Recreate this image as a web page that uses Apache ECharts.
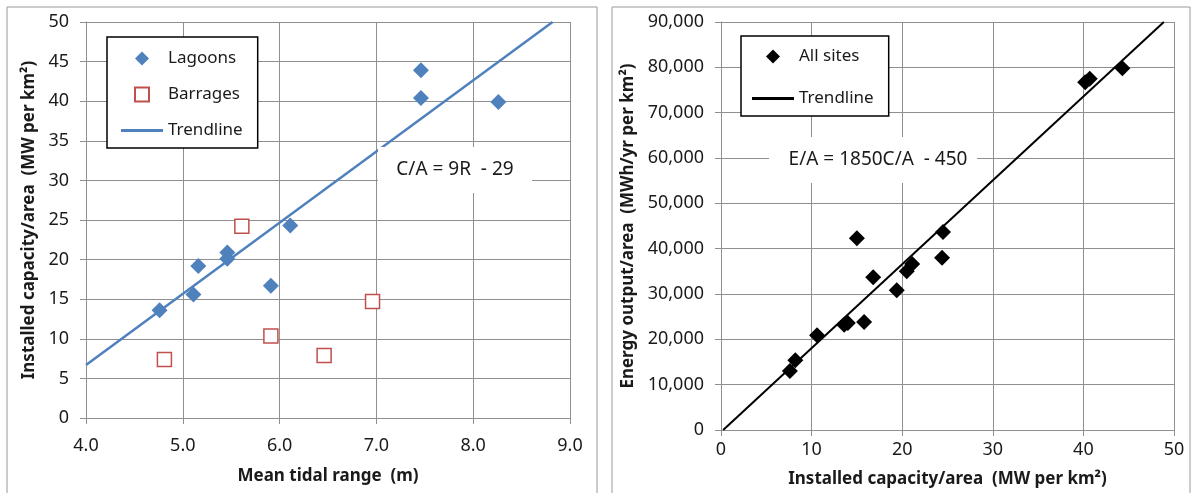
<!DOCTYPE html>
<html>
<head>
<meta charset="utf-8">
<script src="https://cdn.jsdelivr.net/npm/echarts@6/dist/echarts.min.js"></script>
<style>
    html, body { margin: 0; padding: 0; background: #fff; }
    #table_01 { position: absolute; left: 0; top: 0; width: 600px; height: 493px; }
    #table_02 { position: absolute; left: 600px; top: 0; width: 597px; height: 493px; }
</style>
</head>
<body>
<div id="table_01"></div>
<div id="table_02"></div>
<script>
'use strict';

// left chart: tidal range vs installed capacity per area
var lagoonRange = [4.76, 5.11, 5.16, 5.46, 5.46, 5.91, 6.11, 7.46, 7.46, 8.26],
    lagoonCap = [13.6, 15.6, 19.2, 20.9, 20.1, 16.7, 24.3, 43.9, 40.4, 39.9],
    barrageRange = [4.81, 5.61, 5.91, 6.46, 6.96],
    barrageCap = [7.4, 24.2, 10.35, 7.9, 14.7],
    trendRange = [4.0, 8.82],
    trendCap = [6.7, 50.0];

// right chart: installed capacity vs energy output per area
var siteCap = [7.6, 8.2, 10.6, 13.6, 14.0, 15.8, 15.0, 16.8, 19.4, 20.5, 21.1, 24.5, 24.4, 40.2, 40.7, 44.3],
    siteEnergy = [13000, 15400, 20900, 23200, 23600, 23800, 42300, 33700, 30800, 35000, 36600, 43700, 38000, 76700, 77500, 79800],
    trendCap2 = [0.24, 48.88],
    trendEnergy = [0, 90000];

var fontName = 'Noto Sans',
    gridGrey = '#8f8f8f',
    textDark = '#1a1a1a',
    // square-ish legend icons (paths keep their aspect in the legend)
    lineIcon = 'path://M0,0 L42,0 L42,2.8 L0,2.8 Z',
    diamondIcon = 'path://M7,0 L14,7 L7,14 L0,7 Z',
    squareIcon = 'path://M0,0 L13,0 L13,13 L0,13 Z';

function pairs(xs, ys) {
    return xs.map(function (x, i) { return [x, ys[i]]; });
}

function withCommas(v) {
    return String(v).replace(/\B(?=(\d{3})+(?!\d))/g, ',');
}

function axisBase() {
    return {
        axisLine: { show: true, lineStyle: { color: gridGrey, width: 1 } },
        axisTick: { show: true, inside: false, length: 6, lineStyle: { color: gridGrey } },
        splitLine: { show: true, lineStyle: { color: gridGrey, width: 1 } },
        axisLabel: { color: textDark, fontFamily: fontName, fontSize: 18, margin: 17 },
        nameLocation: 'middle',
        nameTextStyle: { color: textDark, fontFamily: fontName, fontSize: 17, fontWeight: 'bold' }
    };
}

var table_01 = echarts.init(document.getElementById('table_01'));

var xAxis1 = axisBase();
xAxis1.type = 'value';
xAxis1.min = 4;
xAxis1.max = 9;
xAxis1.interval = 1;
xAxis1.name = 'Mean tidal range  (m)';
xAxis1.nameGap = 50;
xAxis1.axisLabel.margin = 19;
xAxis1.axisLabel.formatter = function (v) { return v.toFixed(1); };

var yAxis1 = axisBase();
yAxis1.type = 'value';
yAxis1.min = 0;
yAxis1.max = 50;
yAxis1.interval = 5;
yAxis1.name = 'Installed capacity/area  (MW per km²)';
yAxis1.nameGap = 48;

var option = {
    animation: false,
    textStyle: { fontFamily: fontName },
    grid: { left: 86, right: 30, top: 22, bottom: 75, containLabel: false },
    legend: {
        orient: 'vertical',
        left: 107,
        top: 37,
        padding: [13, 15, 9, 14],
        itemWidth: 42,
        itemHeight: 14,
        itemGap: 19,
        itemTextGap: 5,
        symbolKeepAspect: true,
        backgroundColor: '#fff',
        borderColor: '#000',
        borderWidth: 1.5,
        borderRadius: 0,
        textStyle: { color: textDark, fontFamily: fontName, fontSize: 17 },
        data: [
            { name: 'Lagoons', icon: diamondIcon },
            { name: 'Barrages', icon: squareIcon },
            { name: 'Trendline', icon: lineIcon }
        ],
        z: 10
    },
    xAxis: xAxis1,
    yAxis: yAxis1,
    graphic: [{
        type: 'rect',
        shape: { x: 7, y: 7, width: 590, height: 520 },
        style: { fill: 'none', stroke: '#9a9a9a', lineWidth: 1 },
        silent: true
    }, {
        type: 'rect',
        shape: { x: 378, y: 147, width: 154, height: 46 },
        style: { fill: '#fff' },
        z: 50
    }, {
        type: 'text',
        x: 455,
        y: 170,
        style: {
            text: 'C/A = 9R  - 29',
            fill: textDark,
            font: '19px "Noto Sans"',
            align: 'center',
            verticalAlign: 'middle'
        },
        z: 51
    }],
    series: [{
        name: 'Lagoons',
        type: 'scatter',
        symbol: 'diamond',
        symbolSize: 16,
        itemStyle: { color: '#4f81bd', opacity: 1 },
        data: pairs(lagoonRange, lagoonCap),
        z: 3
    }, {
        name: 'Barrages',
        type: 'scatter',
        symbol: 'rect',
        symbolSize: 14,
        itemStyle: { color: '#fff', borderColor: '#c0504d', borderWidth: 1.5, opacity: 1 },
        data: pairs(barrageRange, barrageCap),
        z: 3
    }, {
        name: 'Trendline',
        type: 'line',
        symbol: 'none',
        lineStyle: { color: '#4f81bd', width: 2.5 },
        itemStyle: { color: '#4f81bd' },
        data: pairs(trendRange, trendCap),
        z: 2
    }]
};

table_01.setOption(option);

var table_02 = echarts.init(document.getElementById('table_02'));

var xAxis2 = axisBase();
xAxis2.type = 'value';
xAxis2.min = 0;
xAxis2.max = 50;
xAxis2.interval = 10;
xAxis2.name = 'Installed capacity/area  (MW per km²)';
xAxis2.nameGap = 41;
xAxis2.axisLabel.margin = 11;

var yAxis2 = axisBase();
yAxis2.type = 'value';
yAxis2.min = 0;
yAxis2.max = 90000;
yAxis2.interval = 10000;
yAxis2.name = 'Energy output/area  (MWh/yr per km²)';
yAxis2.nameGap = 81;
yAxis2.axisLabel.formatter = withCommas;

option = {
    animation: false,
    textStyle: { fontFamily: fontName },
    grid: { left: 121, right: 23, top: 22, bottom: 61, containLabel: false },
    legend: {
        orient: 'vertical',
        left: 141,
        top: 36,
        padding: [12, 15, 9, 11],
        itemWidth: 42,
        itemHeight: 14,
        itemGap: 25,
        itemTextGap: 4,
        symbolKeepAspect: true,
        backgroundColor: '#fff',
        borderColor: '#000',
        borderWidth: 1.5,
        borderRadius: 0,
        textStyle: { color: textDark, fontFamily: fontName, fontSize: 17 },
        data: [
            { name: 'All sites', icon: diamondIcon },
            { name: 'Trendline', icon: lineIcon }
        ],
        z: 10
    },
    xAxis: xAxis2,
    yAxis: yAxis2,
    graphic: [{
        type: 'rect',
        shape: { x: 12, y: 7, width: 578, height: 520 },
        style: { fill: 'none', stroke: '#9a9a9a', lineWidth: 1 },
        silent: true
    }, {
        type: 'rect',
        shape: { x: 169, y: 137, width: 208, height: 46 },
        style: { fill: '#fff' },
        z: 50
    }, {
        type: 'text',
        x: 278,
        y: 160,
        style: {
            text: 'E/A = 1850C/A  - 450',
            fill: textDark,
            font: '19px "Noto Sans"',
            align: 'center',
            verticalAlign: 'middle'
        },
        z: 51
    }],
    series: [{
        name: 'All sites',
        type: 'scatter',
        symbol: 'diamond',
        symbolSize: 16,
        itemStyle: { color: '#000', opacity: 1 },
        data: pairs(siteCap, siteEnergy),
        z: 3
    }, {
        name: 'Trendline',
        type: 'line',
        symbol: 'none',
        lineStyle: { color: '#000', width: 2 },
        itemStyle: { color: '#000' },
        data: pairs(trendCap2, trendEnergy),
        z: 2
    }]
};

table_02.setOption(option);
</script>
</body>
</html>
